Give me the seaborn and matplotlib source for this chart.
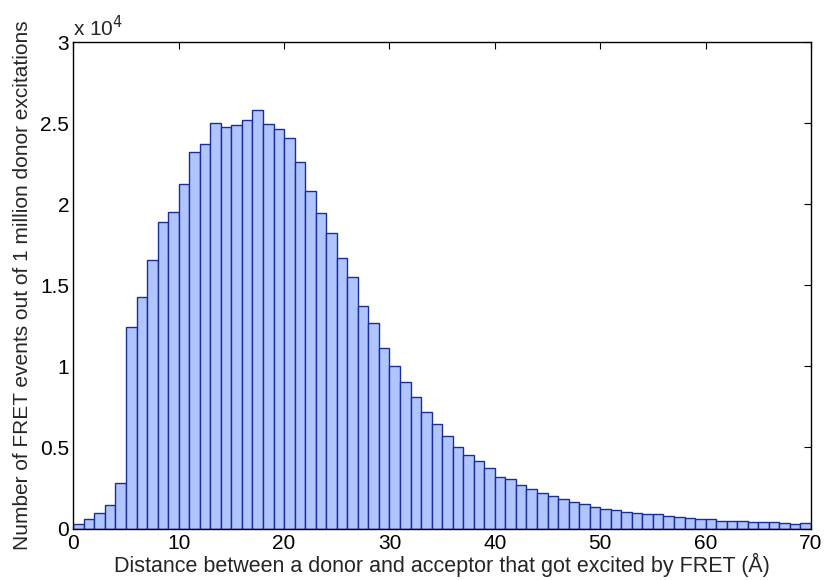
import matplotlib
matplotlib.use("Agg")
import matplotlib.pyplot as plt
import seaborn as sns
import numpy as np

# bin left edges (Å), width 1
bin_starts = list(range(0, 70))
counts = [300, 570, 935, 1450, 2790, 12460, 14310, 16570, 18920, 19540,
          21265, 23220, 23710, 25010, 24770, 24890, 25220, 25810, 24950, 24640,
          24100, 22600, 20830, 19460, 18240, 16720, 15540, 13750, 12700, 11120,
          10010, 9020, 8100, 7170, 6430, 5690, 5010, 4520, 4150, 3730,
          3180, 3040, 2670, 2420, 2170, 1990, 1800, 1640, 1490, 1350,
          1180, 1120, 1000, 940, 880, 880, 770, 710, 650, 590,
          590, 460, 460, 460, 400, 400, 400, 320, 260, 340]
x_ticks = [0, 10, 20, 30, 40, 50, 60, 70]
x_tick_labels = ["0", "10", "20", "30", "40", "50", "60", "70"]
y_ticks = [0, 5000, 10000, 15000, 20000, 25000, 30000]
y_tick_labels = ["0", "0.5", "1", "1.5", "2", "2.5", "3"]
x_label = "Distance between a donor and acceptor that got excited by FRET (Å)"
y_label = "Number of FRET events out of 1 million donor excitations"

sns.set_theme(style="white")
plt.rcParams['font.family'] = ['Liberation Sans', 'DejaVu Sans']

fig = plt.figure(figsize=(8.24, 5.8), dpi=100)
ax = fig.add_axes([73.3 / 824, 1 - 528.5 / 580, (811 - 73.3) / 824, (528.5 - 42.3) / 580])

centers = [b + 0.5 for b in bin_starts]
edges = list(range(0, 71))
sns.histplot(x=centers, weights=counts, bins=edges, ax=ax,
             color="#B0C4FF", edgecolor="#1A2E9A", linewidth=1.0, alpha=1.0)

ax.set_xlim(0, 70)
ax.set_ylim(0, 30000)
ax.set_xticks(x_ticks)
ax.set_xticklabels(x_tick_labels)
ax.set_yticks(y_ticks)
ax.set_yticklabels(y_tick_labels)
ax.tick_params(direction="in", length=5, width=0.8, top=True, right=True,
               labelsize=15, colors="black", pad=3)
ax.tick_params(axis="x", pad=4)
for s in ax.spines.values():
    s.set_visible(True)
    s.set_color("black")
    s.set_linewidth(1.0)
ax.set_xlabel(x_label, fontsize=15.5, labelpad=0)
ax.set_ylabel(y_label, fontsize=15, labelpad=6)
ax.text(0.0, 1.004, r"x 10$^{4}$", transform=ax.transAxes, fontsize=15,
        ha="left", va="bottom")
ax.grid(False)

fig.savefig("out.png", dpi=100)
